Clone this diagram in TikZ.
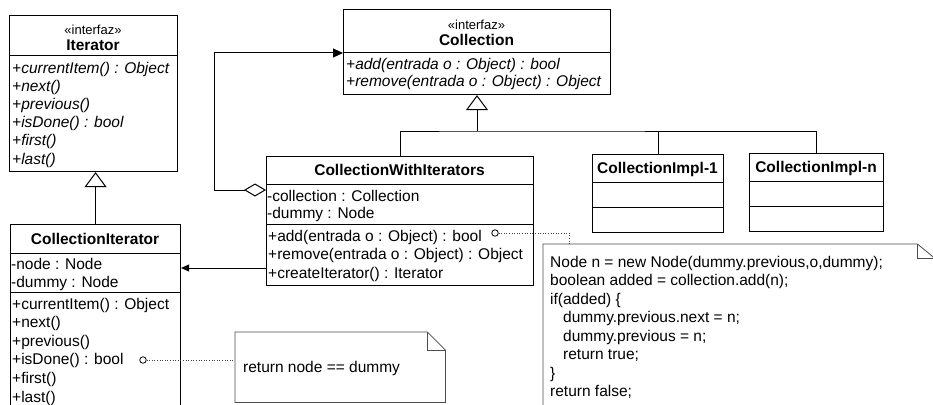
\documentclass[tikz,border=0pt]{standalone}
\usepackage{fontspec}
\setmainfont{Liberation Sans}
\usetikzlibrary{arrows.meta}

\newcommand\memfont{\fontsize{15.5}{18}\selectfont}
\newcommand\stereofont{\fontsize{13}{15}\selectfont}

\tikzset{
  classbox/.style={draw, line width=1.1pt, inner sep=0pt, anchor=north west},
  notearea/.style={inner sep=0pt, anchor=north west},
  sepline/.style={line width=1pt},
  notebody/.style={line width=0.8pt, draw=black!70},
  mem/.style={anchor=base west, inner sep=0pt, font=\memfont},
  imem/.style={mem, font=\memfont\itshape},
  ttl/.style={anchor=base, inner sep=0pt, font=\memfont\bfseries},
  stereo/.style={anchor=base, inner sep=0pt, font=\stereofont},
  gen/.style={line width=1pt, -{Triangle[open, length=15pt, width=22pt, line width=1pt]}},
  rel/.style={line width=1pt},
  agg/.style={line width=1pt, {Diamond[open, length=22pt, width=13pt, line width=1pt]}-{Triangle[length=10pt, width=9pt]}},
  nav/.style={line width=1pt, -{Triangle[length=8pt, width=7pt]}},
  anchorcirc/.style={circle, draw, line width=0.8pt, inner sep=0pt, minimum size=6.5pt},
  dots/.style={line width=0.8pt, draw=black!75, dash pattern=on 1pt off 1.6pt}
}

\begin{document}
\begin{tikzpicture}[x=1pt, y=-1pt]
\fill[white] (0,0) rectangle (933,404);
\useasboundingbox (0,0) rectangle (933,404);

% ---------- Iterator interface ----------
\node[classbox, minimum width=168pt, minimum height=156pt] (iter) at (9,15) {};
\draw[sepline] (iter.west |- 0,56) -- (iter.east |- 0,56);
\node[stereo] (iterst) at (93,34.5) {«interfaz»};
\node[ttl] (itert) at (93,50.5) {Iterator};
\node[imem] (im1) at (12,73) {+currentItem() : Object};
\node[imem] (im2) at (12,91.2) {+next()};
\node[imem] (im3) at (12,109.4) {+previous()};
\node[imem] (im4) at (12,127.6) {+isDone() : bool};
\node[imem] (im5) at (12,145.8) {+first()};
\node[imem] (im6) at (12,164) {+last()};

% ---------- CollectionIterator ----------
\node[classbox, minimum width=170pt, minimum height=210pt] (citer) at (10,224) {};
\draw[sepline] (citer.west |- 0,253) -- (citer.east |- 0,253);
\draw[sepline] (citer.west |- 0,292) -- (citer.east |- 0,292);
\node[ttl] (citert) at (95,244.5) {CollectionIterator};
\node[mem] (ca1) at (11,269) {-node : Node};
\node[mem] (ca2) at (11,287) {-dummy : Node};
\node[mem] (cm1) at (12,309) {+currentItem() : Object};
\node[mem] (cm2) at (12,327.6) {+next()};
\node[mem] (cm3) at (12,346.2) {+previous()};
\node[mem] (cm4) at (12,364.8) {+isDone() : bool};
\node[mem] (cm5) at (12,383.4) {+first()};
\node[mem] (cm6) at (12,402) {+last()};

% ---------- Collection interface ----------
\node[classbox, minimum width=267pt, minimum height=85pt] (coll) at (343,9) {};
\draw[sepline] (coll.west |- 0,53) -- (coll.east |- 0,53);
\node[stereo] (collst) at (476.5,29.5) {«interfaz»};
\node[ttl] (collt) at (476.5,45.5) {Collection};
\node[imem] (km1) at (346,69) {+add(entrada o : Object) : bool};
\node[imem] (km2) at (346,86) {+remove(entrada o : Object) : Object};

% ---------- CollectionWithIterators ----------
\node[classbox, minimum width=267pt, minimum height=129pt] (cwi) at (266,156) {};
\draw[sepline] (cwi.west |- 0,184) -- (cwi.east |- 0,184);
\draw[sepline] (cwi.west |- 0,224) -- (cwi.east |- 0,224);
\node[ttl] (cwit) at (399.5,175.5) {CollectionWithIterators};
\node[mem] (wa1) at (267,201) {-collection : Collection};
\node[mem] (wa2) at (267,218.5) {-dummy : Node};
\node[mem] (wm1) at (268,241) {+add(entrada o : Object) : bool};
\node[mem] (wm2) at (268,259.5) {+remove(entrada o : Object) : Object};
\node[mem] (wm3) at (268,278) {+createIterator() : Iterator};

% ---------- implementations ----------
\node[classbox, minimum width=131pt, minimum height=78pt] (impl1) at (592,154) {};
\draw[sepline] (impl1.west |- 0,182) -- (impl1.east |- 0,182);
\draw[sepline] (impl1.west |- 0,207) -- (impl1.east |- 0,207);
\node[ttl] (impl1t) at (657.5,173.5) {CollectionImpl-1};

\node[classbox, minimum width=134pt, minimum height=78pt] (impln) at (749,153) {};
\draw[sepline] (impln.west |- 0,181) -- (impln.east |- 0,181);
\draw[sepline] (impln.west |- 0,206) -- (impln.east |- 0,206);
\node[ttl] (implnt) at (816,172.5) {CollectionImpl-n};

% ---------- relations ----------
\draw[gen] (citer.north) -- (citer.north |- iter.south);

\coordinate (bus) at (477,131);
\draw[rel] (cwi.north) |- (bus) -| (impln.north);
\draw[rel] (impl1.north) -- (impl1.north |- bus);
\draw[gen] (bus) -- (bus |- coll.south);

\coordinate (aggbend) at (214,190);
\draw[agg] (cwi.west |- aggbend) -- (aggbend) |- (coll.west |- 0,53);

\draw[nav] (cwi.west |- 0,268) -- (citer.east |- 0,268);

% ---------- notes ----------
\node[notearea, minimum width=391pt, minimum height=186pt] (note1) at (543,244) {};
\draw[notebody] (note1.north west) -- ([xshift=-17pt]note1.north east)
  -- ([yshift=-14pt]note1.north east) -- (note1.south east)
  -- (note1.south west) -- cycle;
\draw[notebody] ([xshift=-17pt]note1.north east) -- ([xshift=-17pt, yshift=-14pt]note1.north east)
  -- ([yshift=-14pt]note1.north east);
\node[mem] (n1) at (550,267) {Node n = new Node(dummy.previous,o,dummy);};
\node[mem] (n2) at (550,285.5) {boolean added = collection.add(n);};
\node[mem] (n3) at (550,304) {if(added) \{};
\node[mem] (n4) at (563,322.5) {dummy.previous.next = n;};
\node[mem] (n5) at (563,341) {dummy.previous = n;};
\node[mem] (n6) at (563,359.5) {return true;};
\node[mem] (n7) at (550,378) {\}};
\node[mem] (n8) at (550,396.5) {return false;};

\node[notearea, minimum width=210pt, minimum height=70pt] (note2) at (235,332) {};
\draw[notebody] (note2.north west) -- ([xshift=-18pt]note2.north east)
  -- ([yshift=-18pt]note2.north east) -- (note2.south east)
  -- (note2.south west) -- cycle;
\draw[notebody] ([xshift=-18pt]note2.north east) -- ([xshift=-18pt, yshift=-18pt]note2.north east)
  -- ([yshift=-18pt]note2.north east);
\node[mem] (n9) at (243,372) {return node == dummy};

% ---------- note attachments ----------
\node[anchorcirc] (c1) at (143,360) {};
\node[anchorcirc] (c2) at (495,233) {};
\draw[dots] (c1) -- (c1 -| note2.west);
\draw[dots] (c2) -| ([xshift=26pt]note1.north west);
\end{tikzpicture}
\end{document}
